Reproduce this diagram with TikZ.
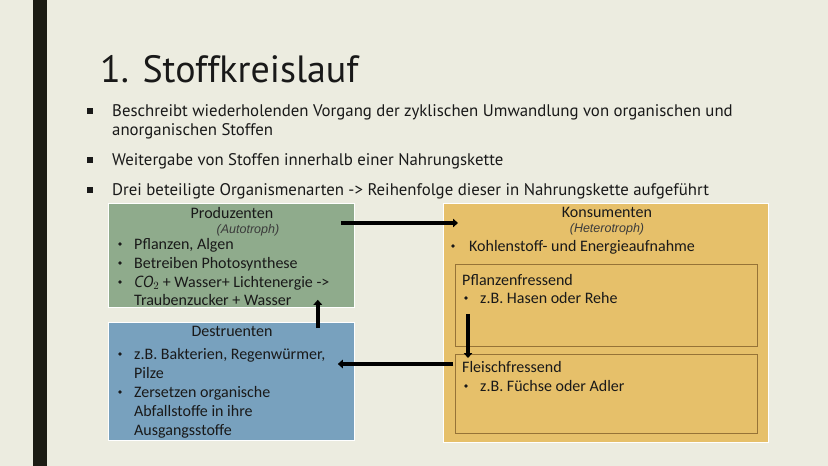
\documentclass[tikz,border=0pt]{standalone}
\usepackage{fontspec}
\setmainfont{PT Sans}
\newfontfamily\calfont{Carlito}
\newfontfamily\subfam{Liberation Sans}
\usetikzlibrary{arrows.meta}
\definecolor{slidebg}{RGB}{236,236,224}
\definecolor{barcol}{RGB}{28,28,20}
\definecolor{prodgreen}{RGB}{143,171,140}
\definecolor{destblue}{RGB}{120,161,190}
\definecolor{konsgold}{RGB}{230,192,106}
\definecolor{innerline}{RGB}{150,115,55}
\definecolor{inktext}{RGB}{25,25,25}
\newcommand{\titlefont}{\fontsize{38}{40}\selectfont}
\newcommand{\slidefont}{\fontsize{16.8}{19}\selectfont}
\newcommand{\boxfont}{\calfont\fontsize{16}{18.7}\selectfont}
\newcommand{\subfont}{\subfam\itshape\fontsize{12.5}{14}\selectfont}
\tikzset{
  box/.style={anchor=north west, draw=white, line width=0.8pt, inner sep=0},
  inbox/.style={anchor=north west, draw=innerline, line width=0.8pt, inner sep=0},
  hd/.style={font=\boxfont, anchor=base, inner sep=0, text=inktext},
  sub/.style={font=\subfont, anchor=base, inner sep=0, text=inktext!85},
  txt/.style={font=\boxfont, anchor=base west, inner sep=0, text=inktext},
  dot/.style={circle, fill=inktext, minimum size=3.6pt, inner sep=0},
  pt/.style={font=\slidefont, anchor=base west, inner sep=0, text=inktext},
  sq/.style={fill=inktext, minimum size=6.5pt, inner sep=0},
  arr/.style={line width=3.4pt, -{Triangle[length=5pt,width=8.5pt]}},
}
\begin{document}
\begin{tikzpicture}[x=1pt,y=-1pt]
\useasboundingbox (0,0) rectangle (828,466);
\fill[slidebg] (0,0) rectangle (828,466);
\fill[barcol] (33,0) rectangle (47,466);

% title and points
\node[font=\titlefont, anchor=base west, inner sep=0, text=inktext] (title) at (100,82) {1. Stoffkreislauf};
\node[sq] (sq1) at (90,111) {};
\node[pt] (pt1a) at (112,116) {Beschreibt wiederholenden Vorgang der zyklischen Umwandlung von organischen und};
\node[pt] (pt1b) at (112,135) {anorganischen Stoffen};
\node[sq] (sq2) at (90,160) {};
\node[pt] (pt2) at (112,165) {Weitergabe von Stoffen innerhalb einer Nahrungskette};
\node[sq] (sq3) at (90,190) {};
\node[pt] (pt3) at (112,195) {Drei beteiligte Organismenarten -> Reihenfolge dieser in Nahrungskette aufgeführt};

% boxes
\node[box, fill=prodgreen, minimum width=246pt, minimum height=104pt] (prod) at (108,203) {};
\node[box, fill=destblue, minimum width=246pt, minimum height=118pt] (destr) at (108,322) {};
\node[box, fill=konsgold, minimum width=325pt, minimum height=239pt] (kons) at (443,203) {};
\node[inbox, minimum width=302pt, minimum height=82pt] (pflanz) at (455,264) {};
\node[inbox, minimum width=302pt, minimum height=79pt] (fleisch) at (455,354) {};

% Produzenten
\node[hd] (prodhd) at (232,218) {Produzenten};
\node[sub] (prodsub) at (248,233) {(Autotroph)};
\node[dot] at (120,244) {};
\node[txt] (p1) at (134,249) {Pflanzen, Algen};
\node[dot] at (120,263) {};
\node[txt] (p2) at (134,268) {Betreiben Photosynthese};
\node[dot] at (120,282) {};
\node[txt] (p3) at (134,287) {$\mathit{CO}_2$ + Wasser+ Lichtenergie ->};
\node[txt] (p4) at (134,305) {Traubenzucker + Wasser};

% Destruenten
\node[hd] (destrhd) at (232,336) {Destruenten};
\node[dot] at (120,354) {};
\node[txt] (d1) at (134,359) {z.B. Bakterien, Regenwürmer,};
\node[txt] (d2) at (134,378) {Pilze};
\node[dot] at (120,392) {};
\node[txt] (d3) at (134,397) {Zersetzen organische};
\node[txt] (d4) at (134,416) {Abfallstoffe in ihre};
\node[txt] (d5) at (134,435) {Ausgangsstoffe};

% Konsumenten
\node[hd] (konshd) at (607,217) {Konsumenten};
\node[sub] (konssub) at (607,232) {(Heterotroph)};
\node[dot] at (453,246) {};
\node[txt] (k1) at (469,251) {Kohlenstoff- und Energieaufnahme};
\node[txt] (pflanzhd) at (462,285) {Pflanzenfressend};
\node[dot] at (466,298) {};
\node[txt] (k2) at (480,303) {z.B. Hasen oder Rehe};
\node[txt] (fleischhd) at (462,372) {Fleischfressend};
\node[dot] at (466,386) {};
\node[txt] (k3) at (480,391) {z.B. Füchse oder Adler};

% cycle
\draw[arr] ([shift={(-14,20)}]prod.north east) -- ([shift={(15,20)}]kons.north west);
\draw[arr] ([shift={(13,-33)}]pflanz.south west) -- ([shift={(13,4)}]fleisch.north west);
\draw[arr] ([shift={(-2,10)}]fleisch.north west) -- ([shift={(-17,42)}]destr.north east);
\draw[arr] ([shift={(-37,6)}]destr.north east) -- ([shift={(-37,-8)}]prod.south east);
\end{tikzpicture}
\end{document}
